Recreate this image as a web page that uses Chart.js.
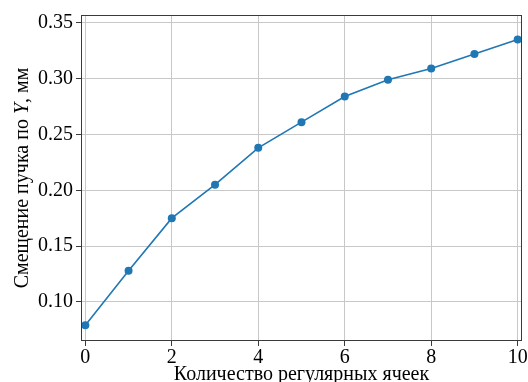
<!DOCTYPE html>
<html>
<head>
<meta charset="utf-8">
<script src="https://cdn.jsdelivr.net/npm/chart.js@4/dist/chart.umd.min.js"></script>
<style>
  html, body { margin: 0; padding: 0; background: #fff; }
  #wrap { width: 528px; height: 382px; }
</style>
</head>
<body>
<div id="wrap"><canvas id="shift"></canvas></div>
<script>
'use strict'

// number of regular cells and beam shift along Y, mm
var cells = [0, 1, 2, 3, 4, 5, 6, 7, 8, 9, 10];
var shiftY = [0.079, 0.128, 0.175, 0.205, 0.238, 0.261, 0.284, 0.299, 0.309, 0.322, 0.335];

var xTicks = [0, 2, 4, 6, 8, 10];
var yTicks = [0.10, 0.15, 0.20, 0.25, 0.30, 0.35];

var xTitle = 'Количество регулярных ячеек';
var yTitle = ['Смещение пучка по ', 'Y', ', мм'];

var serif = '"Liberation Serif", "Times New Roman", serif';

// frame around the plot and the two axis titles
const frameAndTitles = {
  id: 'frameAndTitles',
  afterDraw(chart) {
    const {ctx, chartArea: a} = chart;
    ctx.save();
    ctx.strokeStyle = '#3a3a3a';
    ctx.lineWidth = 1;
    ctx.strokeRect(a.left + 0.5, a.top + 0.5, a.right - a.left - 1, a.bottom - a.top - 1);

    ctx.fillStyle = '#000';
    ctx.textBaseline = 'alphabetic';
    ctx.font = '20px ' + serif;
    ctx.textAlign = 'center';
    ctx.fillText(xTitle, (a.left + a.right) / 2, 380);

    // y title, rotated, with an italic Y
    const fonts = ['20px ' + serif, 'italic 20px ' + serif, '20px ' + serif];
    let widths = yTitle.map((t, i) => { ctx.font = fonts[i]; return ctx.measureText(t).width; });
    let total = widths.reduce((s, w) => s + w, 0);
    ctx.translate(28, (a.top + a.bottom) / 2);
    ctx.rotate(-Math.PI / 2);
    ctx.textAlign = 'left';
    let x = -total / 2;
    yTitle.forEach((t, i) => {
      ctx.font = fonts[i];
      ctx.fillText(t, x, 0);
      x += widths[i];
    });
    ctx.restore();
  }
};

var ctx = document.getElementById('shift');
var chart = new Chart(ctx, {
  type: 'line',
  data: {
    labels: cells,
    datasets: [{
      data: cells.map((c, i) => ({x: c, y: shiftY[i]})),
      borderColor: '#1f77b4',
      backgroundColor: '#1f77b4',
      borderWidth: 1.6,
      pointRadius: 4,
      pointBorderWidth: 0,
      pointBackgroundColor: '#1f77b4',
      tension: 0
    }]
  },
  options: {
    responsive: true,
    maintainAspectRatio: false,
    animation: false,
    layout: { padding: { left: 0, top: 13, right: 6, bottom: 0 } },
    plugins: { legend: { display: false }, tooltip: { enabled: false } },
    scales: {
      x: {
        type: 'linear',
        min: -0.1,
        max: 10.1,
        afterBuildTicks(scale) { scale.ticks = xTicks.map(v => ({value: v})); },
        afterFit(scale) { scale.height = 41; },
        ticks: {
          color: '#000',
          padding: 0,
          font: { family: serif, size: 20 },
          maxRotation: 0,
          callback: v => String(v)
        },
        grid: { color: '#c8c8c8', lineWidth: 1, tickLength: 5, tickColor: '#3a3a3a' },
        border: { display: false }
      },
      y: {
        min: 0.065,
        max: 0.357,
        afterBuildTicks(scale) { scale.ticks = yTicks.map(v => ({value: v})); },
        afterFit(scale) { scale.width = 81; },
        ticks: {
          color: '#000',
          padding: 3,
          font: { family: serif, size: 20 },
          callback: v => v.toFixed(2)
        },
        grid: { color: '#c8c8c8', lineWidth: 1, tickLength: 5, tickColor: '#3a3a3a' },
        border: { display: false }
      }
    }
  },
  plugins: [frameAndTitles]
});
</script>
</body>
</html>
